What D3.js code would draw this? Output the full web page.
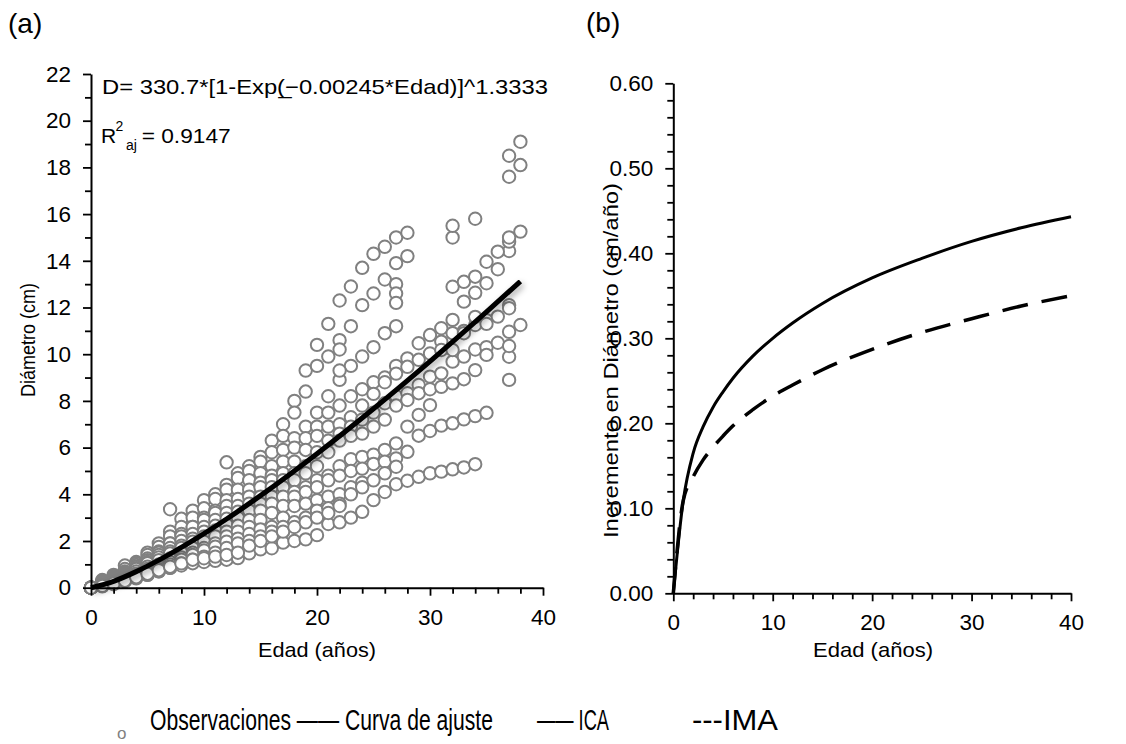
<!DOCTYPE html>
<html><head><meta charset="utf-8">
<script src="https://cdn.jsdelivr.net/npm/d3@7"></script>
<style>
body{margin:0;background:#fff}
svg{display:block}
text{font-family:"Liberation Sans",Arial,sans-serif;fill:#000}
</style>
</head><body>
<svg id="c" width="1126" height="744"></svg>
<script>
// ---------- data ----------
// panel (a): diameter trajectories of individual trees (index = age in years, unless start given)
const tree01 = [0,0.33,0.55,0.95,1.1,1.5,1.9,2.4,2.95,3.3,3.75,4.0,4.4,4.9,5.2,5.6,6.3,7.0,8.0,9.3,10.4,11.3,12.3,12.9,13.7,14.3,14.6,15.0,15.2];
const tree02 = [0,0.3,0.5,0.8,1.05,1.4,1.75,2.2,2.6,3.0,3.4,3.8,4.2,4.7,5.0,5.4,5.8,6.5,7.5,8.4,9.5,9.9,10.6,11.2,12.1,12.6,13.2,13.9,14.2];
const tree03 = [0,0.25,0.45,0.7,0.97,1.25,1.55,1.9,2.3,2.6,3.0,3.3,3.75,4.2,4.6,4.9,5.2,5.9,6.4,6.9,7.5,8.2,8.9,9.5,9.9,10.3,10.9,11.2];
const tree04 = [0,0.2,0.4,0.65,0.9,1.18,1.5,1.9,2.2,2.6,2.9,3.2,3.5,3.8,4.2,4.5,4.8,5.4,6.0,6.4,6.9,7.5,7.8,8.2,8.5,8.8,9.0,9.5,9.82,10.47,10.82,11.11,11.47,12.25,12.63,13.04,13.64,14.42,15.25];
const tree05 = [0,0.2,0.4,0.6,0.83,1.1,1.4,1.7,2.0,2.3,2.6,2.9,3.2,3.5,3.9,4.3,4.6,4.9,5.4,5.9,6.5,6.9,7.0,7.3,7.8,8.3,8.8,9.17,9.46,9.76,10.03,10.54,10.9,11.0,11.25,11.46,11.61,12.1];
const tree06 = [0,0.15,0.35,0.55,0.8,1.05,1.3,1.55,1.8,2.1,2.4,2.65,2.95,3.25,3.6,3.9,4.3,4.6,4.9,5.2,5.8,6.3,6.6,6.9,7.2,7.5,7.9,8.2,8.33,8.68,9.04,9.18,9.68,9.9,10.2,10.3,10.49,10.96,11.25];
const tree07 = [0,0.12,0.3,0.5,0.7,0.9,1.18,1.47,1.7,1.97,2.2,2.45,2.7,3.0,3.3,3.6,3.9,4.3,4.6,4.9,5.2,5.8,6.3,6.5,6.6,6.9,7.2,7.8,8.04,8.33,8.5,8.6,8.75,8.93,9.32,9.97];
const tree08 = [0,0.11,0.28,0.45,0.6,0.8,1.0,1.25,1.5,1.7,1.97,2.2,2.4,2.65,2.9,3.3,3.6,3.9,4.1,4.3,4.6,4.8,5.2,5.5,5.6,5.7,5.9,6.18,6.9,7.4,7.82];
const tree09 = [0,0.1,0.25,0.4,0.55,0.7,0.9,1.1,1.3,1.5,1.7,1.9,2.2,2.4,2.6,2.9,3.2,3.5,3.9,4.1,4.3,4.6,4.8,5.0,5.1,5.3,5.4,5.54,5.82,6.51,6.71,6.94,7.04,7.21,7.35,7.49];
const tree10 = [0,0.08,0.2,0.35,0.5,0.61,0.8,1.0,1.2,1.4,1.6,1.76,1.97,2.1,2.3,2.5,2.6,3.0,3.5,3.6,3.75,3.9,4.0,4.3,4.5,4.6,4.9,5.18];
const tree11 = [0,0.06,0.15,0.28,0.4,0.55,0.7,0.85,1.04,1.2,1.33,1.5,1.7,1.9,2.0,2.2,2.4,2.6,2.8,3.0,3.3,3.4,3.6,4.0,4.3];
const tree12 = [0,0.1,0.2,0.3,0.45,0.55,0.7,0.85,0.95,1.05,1.1,1.15,1.2,1.27,1.47,1.64,1.69,1.93,2.0,2.07,2.25,2.73,2.8,3.0,3.25,3.75,4.1,4.43,4.58,4.75,4.9,4.97,5.07,5.15,5.29];
const tree13 = [0,0.08,0.18,0.3,0.45,0.6,0.75,0.9,1.04,1.2,1.26,1.33,1.4,1.5,1.8,2.0,2.2,2.4,2.6,2.8,3.0,3.2,3.5];
const tree14Start = 32;
const tree14 = [12.89,13.1,13.32,13.96,14.39,14.82];
// isolated observations
const extraAges = [7,12,22,22,27,27,27,31,32,32,32,33,34,34,35,37,37,37,37,37,37,37,38,38];
const extraDiam = [3.36,5.37,10.2,9.3,13.0,12.6,12.2,10.18,10.18,15.0,15.5,10.9,11.6,15.8,11.3,8.9,9.89,10.35,11.97,15.0,17.6,18.5,18.1,19.1];
// fitted curve (a)
const fitAges = [0,2,4,6,8,10,12,15,20,25,30,35,38];
const fitDiam = [0,0.274,0.689,1.179,1.725,2.315,2.943,3.943,5.740,7.666,9.697,11.815,13.121];
// panel (b) increments
const incAges = [0,1,2,3,4,5,6,8,10,12,15,20,25,30,35,40];
const icaValues = [0,0.109,0.165,0.196,0.219,0.237,0.253,0.279,0.300,0.318,0.341,0.371,0.394,0.414,0.430,0.443];
const imaValues = [0,0.109,0.137,0.157,0.172,0.185,0.197,0.216,0.232,0.245,0.263,0.287,0.307,0.323,0.338,0.350];
// ticks
const xTicksA = [0,10,20,30,40];
const xMinorA = [2,4,6,8,12,14,16,18,22,24,26,28,32,34,36,38];
const yTicksA = [0,2,4,6,8,10,12,14,16,18,20,22];
const yMinorA = [1,3,5,7,9,11,13,15,17,19,21];
const xTicksB = [0,10,20,30,40];
const xMinorB = [2,4,6,8,12,14,16,18,22,24,26,28,32,34,36,38];
const yTicksB = [0,0.1,0.2,0.3,0.4,0.5,0.6];
const yMinorB = [0.02,0.04,0.06,0.08,0.12,0.14,0.16,0.18,0.22,0.24,0.26,0.28,0.32,0.34,0.36,0.38,0.42,0.44,0.46,0.48,0.52,0.54,0.56,0.58];
// legend
const legendLabels = ["Observaciones \u2014\u2014 Curva de ajuste", "\u2014\u2014 ICA", "---IMA"];

// ---------- drawing ----------
const svg = d3.select("#c");
const defs = svg.append("defs");
const f = defs.append("filter").attr("id","shadow").attr("x","-10%").attr("y","-10%").attr("width","130%").attr("height","130%");
f.append("feDropShadow").attr("dx",2).attr("dy",3).attr("stdDeviation",3).attr("flood-color","#000").attr("flood-opacity",0.35);

const TICK_FS = 22.5;
function styleAxis(g, fs){
  g.select(".domain").attr("stroke","#000").attr("stroke-width",2);
  g.selectAll(".tick line").attr("stroke","#000").attr("stroke-width",1.8);
  g.selectAll(".tick text").attr("font-size",fs).attr("fill","#000").attr("font-family",'"Liberation Sans",Arial,sans-serif');
}

// panel (a)
const xA = d3.scaleLinear().domain([0,40]).range([91,543]);
const yA = d3.scaleLinear().domain([0,22]).range([587.7,74]);
const gA = svg.append("g");

const trees = [tree01,tree02,tree03,tree04,tree05,tree06,tree07,tree08,tree09,tree10,tree11,tree12,tree13].map(v=>({start:0, values:v}));
trees.push({start:tree14Start, values:tree14});
const obs = [];
trees.forEach(t=>t.values.forEach((v,i)=>obs.push({age:t.start+i, d:v})));
extraAges.forEach((a,i)=>obs.push({age:a, d:extraDiam[i]}));

gA.append("g").selectAll("circle").data(obs).join("circle")
  .attr("cx",d=>xA(d.age)).attr("cy",d=>yA(d.d)).attr("r",6.2)
  .attr("fill","#fff").attr("stroke","#808080").attr("stroke-width",2);

const lineA = d3.line().x((d,i)=>xA(fitAges[i])).y(d=>yA(d)).curve(d3.curveMonotoneX);
gA.append("path").datum(fitDiam).attr("d",lineA).attr("fill","none").attr("stroke","#000")
  .attr("stroke-width",5).attr("filter","url(#shadow)");

const axBA = gA.append("g").attr("transform",`translate(0,${yA(0)})`)
  .call(d3.axisBottom(xA).tickValues(xTicksA).tickSize(8).tickPadding(13).tickSizeOuter(0).tickFormat(d3.format("d")));
styleAxis(axBA,TICK_FS);
const axBAm = gA.append("g").attr("transform",`translate(0,${yA(0)})`)
  .call(d3.axisBottom(xA).tickValues(xMinorA).tickSize(6).tickSizeOuter(0).tickFormat(""));
axBAm.select(".domain").remove(); styleAxis(axBAm,TICK_FS);
const axLA = gA.append("g").attr("transform",`translate(${xA(0)},0)`)
  .call(d3.axisLeft(yA).tickValues(yTicksA).tickSize(8).tickPadding(12).tickSizeOuter(0).tickFormat(d3.format("d")));
styleAxis(axLA,TICK_FS);
const axLAm = gA.append("g").attr("transform",`translate(${xA(0)},0)`)
  .call(d3.axisLeft(yA).tickValues(yMinorA).tickSize(6).tickSizeOuter(0).tickFormat(""));
axLAm.select(".domain").remove(); styleAxis(axLAm,TICK_FS);

gA.append("text").attr("x",258).attr("y",657).attr("font-size",21).attr("textLength",118).attr("lengthAdjust","spacingAndGlyphs").text("Edad (años)");
gA.append("text").attr("transform","translate(35,340) rotate(-90)").attr("text-anchor","middle").attr("font-size",19.5)
  .attr("textLength",114).attr("lengthAdjust","spacingAndGlyphs").text("Diámetro (cm)");
gA.append("text").attr("x",8).attr("y",33).attr("font-size",28).text("(a)");
gA.append("text").attr("x",102).attr("y",94.3).attr("font-size",21).attr("textLength",446).attr("lengthAdjust","spacingAndGlyphs")
  .text("D= 330.7*[1-Exp(\u0332\u22120.00245*Edad)]^1.3333");
const r2 = gA.append("g");
r2.append("text").attr("x",101).attr("y",143).attr("font-size",21).text("R");
r2.append("text").attr("x",115.5).attr("y",131).attr("font-size",14).text("2");
r2.append("text").attr("x",126).attr("y",150).attr("font-size",14).text("aj");
r2.append("text").attr("x",141.7).attr("y",143).attr("font-size",21).attr("textLength",89).attr("lengthAdjust","spacingAndGlyphs").text("= 0.9147");

// panel (b)
const xB = d3.scaleLinear().domain([0,40]).range([673.3,1071]);
const yB = d3.scaleLinear().domain([0,0.6]).range([593.3,83.3]);
const gB = svg.append("g");
const lineB = vals => d3.line().x((d,i)=>xB(incAges[i])).y(d=>yB(d)).curve(d3.curveMonotoneX)(vals);
gB.append("path").attr("d",lineB(imaValues)).attr("fill","none").attr("stroke","#000").attr("stroke-width",3.5).attr("stroke-dasharray","26,14");
gB.append("path").attr("d",lineB(icaValues)).attr("fill","none").attr("stroke","#000").attr("stroke-width",3);

const axBB = gB.append("g").attr("transform",`translate(0,${yB(0)})`)
  .call(d3.axisBottom(xB).tickValues(xTicksB).tickSize(8).tickPadding(13).tickSizeOuter(0).tickFormat(d3.format("d")));
styleAxis(axBB,TICK_FS);
const axBBm = gB.append("g").attr("transform",`translate(0,${yB(0)})`)
  .call(d3.axisBottom(xB).tickValues(xMinorB).tickSize(6).tickSizeOuter(0).tickFormat(""));
axBBm.select(".domain").remove(); styleAxis(axBBm,TICK_FS);
const axLB = gB.append("g").attr("transform",`translate(${xB(0)},0)`)
  .call(d3.axisLeft(yB).tickValues(yTicksB).tickSize(8).tickPadding(12).tickSizeOuter(0).tickFormat(d3.format(".2f")));
styleAxis(axLB,TICK_FS);
const axLBm = gB.append("g").attr("transform",`translate(${xB(0)},0)`)
  .call(d3.axisLeft(yB).tickValues(yMinorB).tickSize(6).tickSizeOuter(0).tickFormat(""));
axLBm.select(".domain").remove(); styleAxis(axLBm,TICK_FS);

gB.append("text").attr("x",813).attr("y",657).attr("font-size",21).attr("textLength",120).attr("lengthAdjust","spacingAndGlyphs").text("Edad (años)");
gB.append("text").attr("transform","translate(618,360.5) rotate(-90)").attr("text-anchor","middle").attr("font-size",21)
  .attr("textLength",355).attr("lengthAdjust","spacingAndGlyphs").text("Incremento en Diámetro (cm/año)");
gB.append("text").attr("x",586).attr("y",32).attr("font-size",28).text("(b)");

// legend (text vertically stretched like the original)
const lg = svg.append("g");
lg.append("text").attr("x",117).attr("y",739).attr("font-size",17).style("fill","#808080").text("o");
const legendPos = [[150,343],[537,72],[692,86]];
legendLabels.forEach((t,i)=>{
  lg.append("g").attr("transform",`translate(${legendPos[i][0]},730) scale(1,1.36)`)
    .append("text").attr("x",0).attr("y",0).attr("font-size",22)
    .attr("textLength",legendPos[i][1]).attr("lengthAdjust","spacingAndGlyphs").text(t);
});
</script>
</body></html>
